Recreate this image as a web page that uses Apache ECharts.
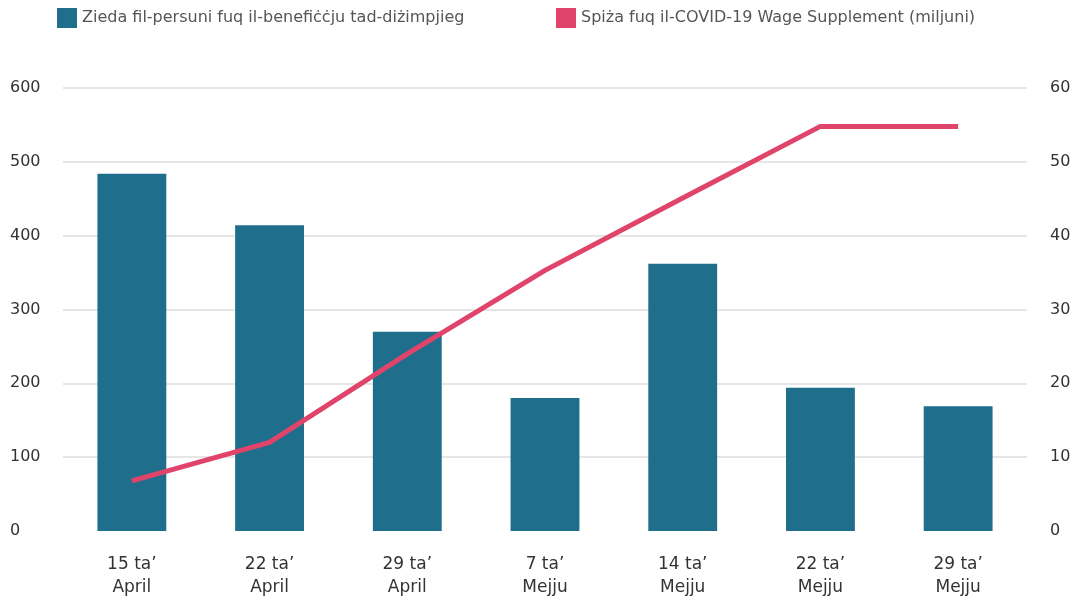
<!DOCTYPE html>
<html>
<head>
<meta charset="utf-8">
<script src="https://cdn.jsdelivr.net/npm/echarts@6/dist/echarts.min.js"></script>
<style>
html,body{margin:0;padding:0;background:#fff;}
#chart{width:1082px;height:603px;}
</style>
</head>
<body>
<div id="chart"></div>
<script>
const categories = ["15 ta’\nApril", "22 ta’\nApril", "29 ta’\nApril", "7 ta’\nMejju", "14 ta’\nMejju", "22 ta’\nMejju", "29 ta’\nMejju"];
const barName = "Zieda fil-persuni fuq il-benefiċċju tad-diżimpjieg";
const lineName = "Spiża fuq il-COVID-19 Wage Supplement (miljuni)";
const barValues = [484, 414, 270, 180, 362, 194, 169];
const lineValues = [6.8, 12.0, 24.0, 35.3, 45.1, 54.8, 54.8];
const leftTicks = [0, 100, 200, 300, 400, 500, 600];
const rightTicks = [0, 10, 20, 30, 40, 50, 60];

const FONT = "'DejaVu Sans', sans-serif";
const chart = echarts.init(document.getElementById('chart'));
const legendText = {fontFamily: FONT, fontSize: 16, color: '#555'};
chart.setOption({
  animation: false,
  textStyle: {fontFamily: FONT},
  legend: [
    {data: [barName], left: 57, top: 8, padding: 0, itemWidth: 20, itemHeight: 20, icon: 'rect', textStyle: legendText},
    {data: [lineName], left: 556, top: 8, padding: 0, itemWidth: 20, itemHeight: 20, icon: 'rect', textStyle: legendText}
  ],
  grid: {left: 63, right: 55, top: 88, bottom: 72, containLabel: false},
  xAxis: {
    type: 'category',
    data: categories,
    axisLine: {show: false},
    axisTick: {show: false},
    axisLabel: {fontFamily: FONT, fontSize: 17, color: '#333', lineHeight: 23, margin: 22}
  },
  yAxis: [
    {
      type: 'value', min: leftTicks[0], max: leftTicks[leftTicks.length - 1], interval: leftTicks[1] - leftTicks[0],
      axisLine: {show: false}, axisTick: {show: false},
      axisLabel: {fontFamily: FONT, fontSize: 16, color: '#333', align: 'left', margin: 53},
      splitLine: {show: true, showMinLine: false, lineStyle: {color: '#e6e6e6', width: 2}}
    },
    {
      type: 'value', min: rightTicks[0], max: rightTicks[rightTicks.length - 1], interval: rightTicks[1] - rightTicks[0],
      position: 'right',
      axisLine: {show: false}, axisTick: {show: false},
      axisLabel: {fontFamily: FONT, fontSize: 16, color: '#333', align: 'left', margin: 23},
      splitLine: {show: false}
    }
  ],
  series: [
    {name: barName, type: 'bar', data: barValues, barWidth: '50%', itemStyle: {color: '#1f6e8b'}, yAxisIndex: 0},
    {name: lineName, type: 'line', data: lineValues, yAxisIndex: 1, showSymbol: false, symbol: 'none',
     lineStyle: {color: '#e0446a', width: 5}, itemStyle: {color: '#e0446a'}}
  ]
});
</script>
</body>
</html>
